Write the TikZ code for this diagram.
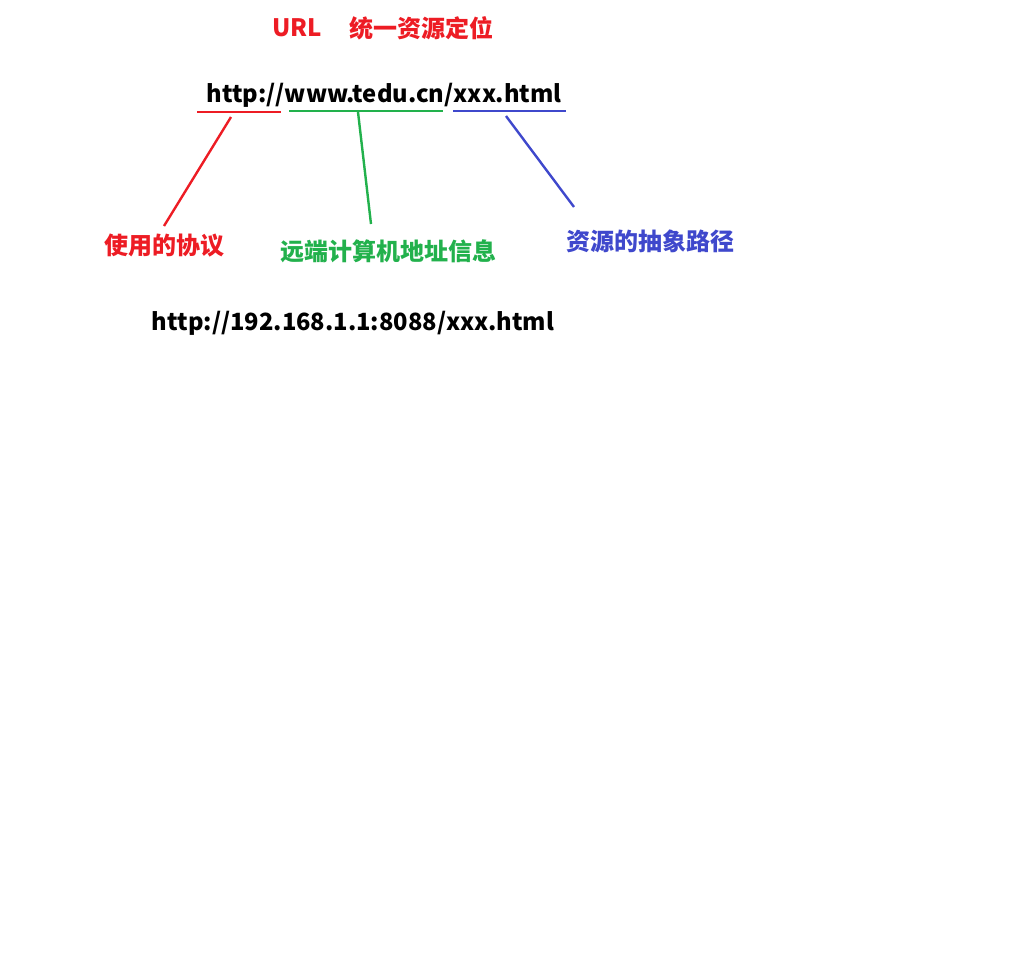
\documentclass[tikz,border=0pt]{standalone}
\usepackage{fontspec}
\setmainfont{Noto Sans CJK SC}
\definecolor{urlred}{HTML}{ED1C24}
\definecolor{urlgreen}{HTML}{22B14C}
\definecolor{urlblue}{HTML}{3F48CC}
\tikzstyle{label}=[font=\fontsize{18}{21}\selectfont\bfseries, inner sep=0pt]
\tikzstyle{urltext}=[font=\fontsize{17.8}{21}\selectfont\bfseries, inner sep=0pt, text=black]
\tikzstyle{under}=[line width=2.2pt]
\tikzstyle{edge}=[line width=1.8pt]

\begin{document}
\begin{tikzpicture}[x=0.75pt, y=-0.75pt]
            \useasboundingbox (0,0) rectangle (1018,964);
            \node[label, text=urlred] (url) at (297,28) {URL};
            \node[label, text=urlred] (title) at (421,28) {统一资源定位};
            \node[urltext] (addr) at (384,95) {http://www.tedu.cn/xxx.html};
            \node[label, text=urlred] (proto) at (164,246) {使用的协议};
            \node[label, text=urlgreen] (host) at (388,251) {远端计算机地址信息};
            \node[label, text=urlblue] (path) at (650,241) {资源的抽象路径};
            \node[urltext] (ipaddr) at (353,323) {http://192.168.1.1:8088/xxx.html};
            \coordinate (r1) at (197,112);
            \coordinate (r2) at (281,112);
            \coordinate (g1) at (289,111);
            \coordinate (g2) at (443,111);
            \coordinate (b1) at (453,111);
            \coordinate (b2) at (566,111);
            \coordinate (rs) at (231,117);
            \coordinate (re) at (164,226);
            \coordinate (gs) at (358,112);
            \coordinate (ge) at (371,224);
            \coordinate (bs) at (506,116);
            \coordinate (be) at (574,207);
            \draw[under, urlred] (r1) -- (r2);
            \draw[under, urlgreen] (g1) -- (g2);
            \draw[under, urlblue] (b1) -- (b2);
            \draw[edge, urlred] (rs) -- (re);
            \draw[edge, urlgreen] (gs) -- (ge);
            \draw[edge, urlblue] (bs) -- (be);
\end{tikzpicture}
\end{document}
